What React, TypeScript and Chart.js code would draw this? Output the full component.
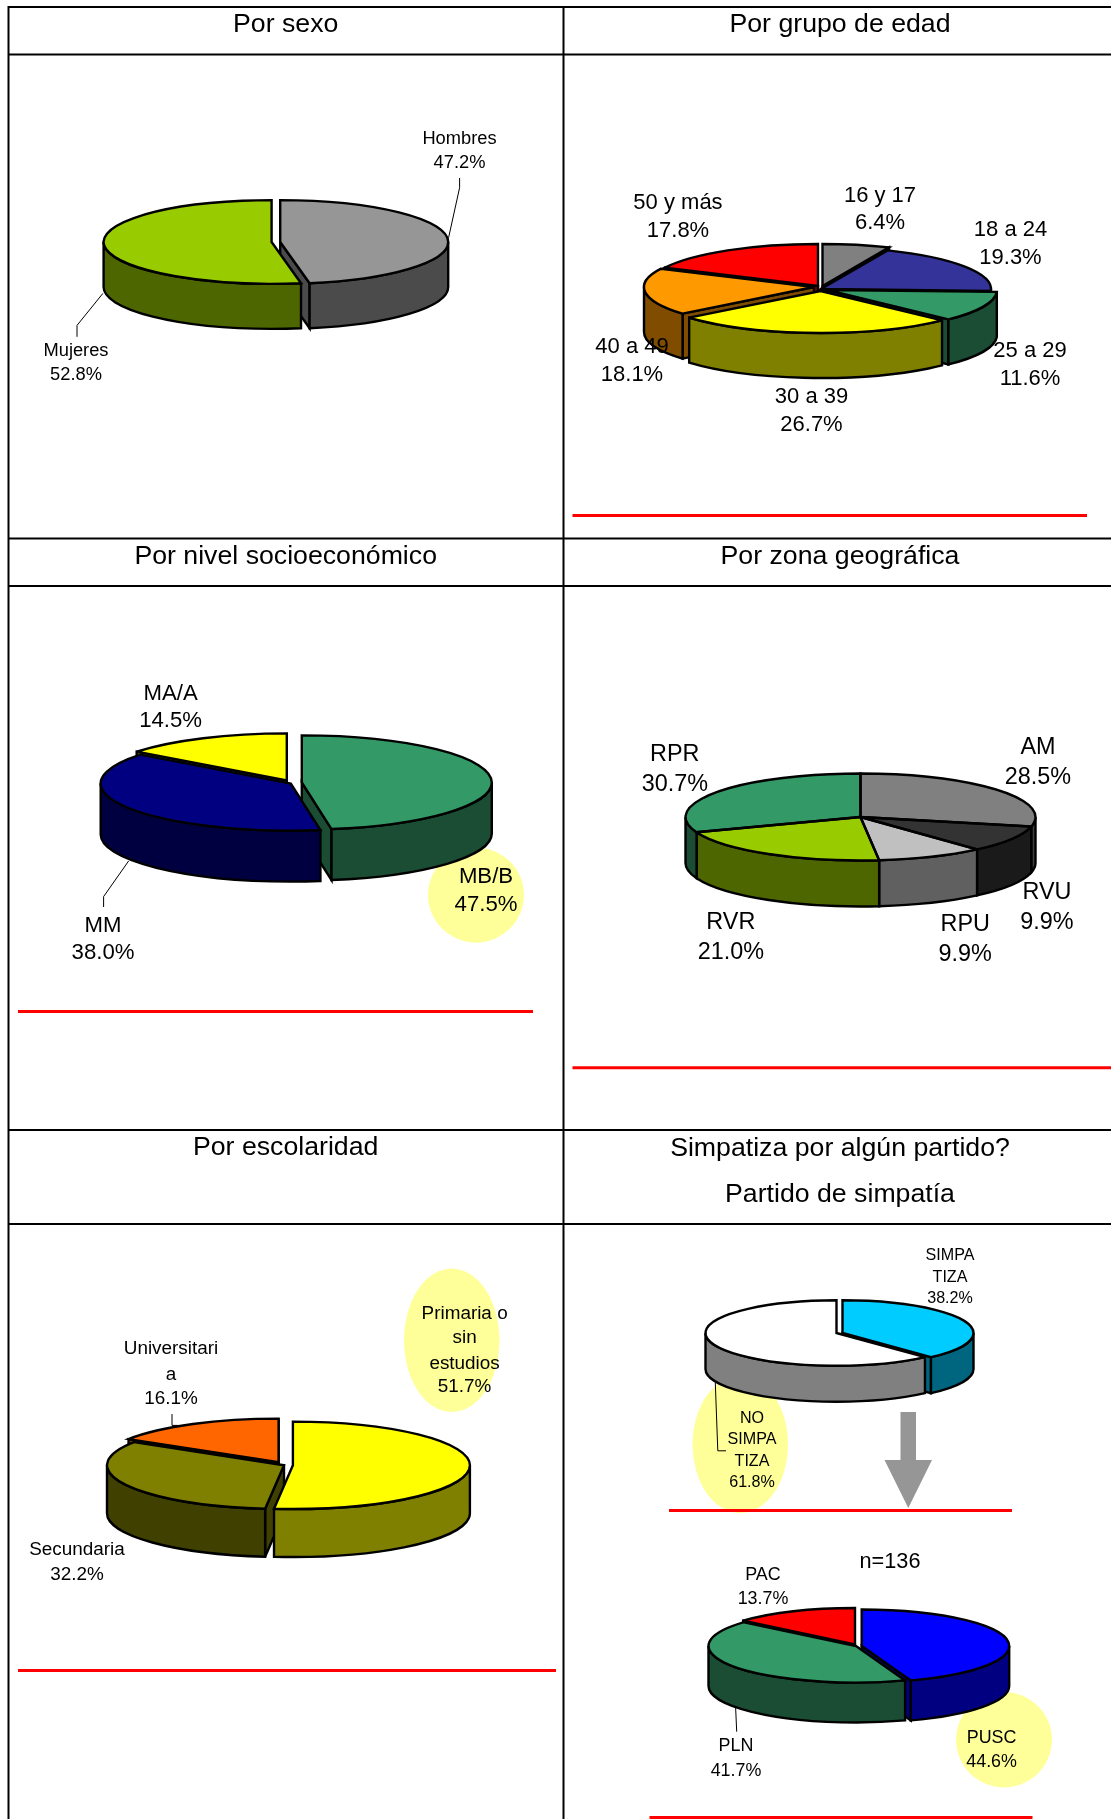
import React, { useEffect, useRef } from "react";
import { Chart, registerables } from "chart.js";

Chart.register(...registerables);

// ---------- data ----------
const sexoCategories = ["Hombres", "Mujeres"];
const sexoValues = [47.2, 52.8];

const edadCategories = ["16 y 17", "18 a 24", "25 a 29", "30 a 39", "40 a 49", "50 y más"];
const edadValues = [6.4, 19.3, 11.6, 26.7, 18.1, 17.8];

const nivelCategories = ["MB/B", "MM", "MA/A"];
const nivelValues = [47.5, 38.0, 14.5];

const zonaCategories = ["AM", "RVU", "RPU", "RVR", "RPR"];
const zonaValues = [28.5, 9.9, 9.9, 21.0, 30.7];

const escolaridadCategories = ["Primaria o\nsin\nestudios", "Secundaria", "Universitari\na"];
const escolaridadValues = [51.7, 32.2, 16.1];

const simpatiaCategories = ["SIMPA\nTIZA", "NO\nSIMPA\nTIZA"];
const simpatiaValues = [38.2, 61.8];

const partidoCategories = ["PUSC", "PLN", "PAC"];
const partidoValues = [44.6, 41.7, 13.7];

const FONT = '"Liberation Sans", Arial, sans-serif';

// ---------- styling / layout ----------
const pies = [
  {
    cats: sexoCategories, vals: sexoValues,
    tops: ["#969696", "#99cc00"], walls: ["#4b4b4b", "#4d6600"],
    explode: [[4.2, 0], [-4.4, 0]],
    cx: 276, cy: 242, r: 168, k: 0.249, depth: 45, font: 18.3,
    labels: [{ x: 459.5, ys: [144, 168] }, { x: 76, ys: [356.4, 380.5] }],
  },
  {
    cats: edadCategories, vals: edadValues,
    tops: ["#808080", "#333399", "#339966", "#ffff00", "#ff9900", "#ff0000"],
    walls: ["#404040", "#1a1a4d", "#1a4d33", "#808000", "#804d00", "#800000"],
    explode: [[2.5, -3], [1, 0], [7, 1], [0.6, 2], [-6, -2], [-2, -3]],
    cx: 820, cy: 289, r: 170, k: 0.247, depth: 45, font: 22,
    labels: [
      { x: 880, ys: [202.5, 230] }, { x: 1010.5, ys: [237, 265] }, { x: 1030, ys: [358, 386] },
      { x: 811.5, ys: [404, 432] }, { x: 632, ys: [354, 382] }, { x: 678, ys: [210, 238] },
    ],
  },
  {
    cats: nivelCategories, vals: nivelValues,
    tops: ["#339966", "#000080", "#ffff00"], walls: ["#1a4d33", "#000040", "#808000"],
    explode: [[8.8, 0], [-2.3, 1], [-6.2, -2]],
    cx: 293, cy: 782.5, r: 190, k: 0.248, depth: 51, font: 22.2,
    labels: [{ x: 486, ys: [884, 912] }, { x: 103, ys: [932.6, 959.8] }, { x: 170.6, ys: [700.3, 728] }],
  },
  {
    cats: zonaCategories, vals: zonaValues,
    tops: ["#808080", "#333333", "#c0c0c0", "#99cc00", "#339966"],
    walls: ["#404040", "#1a1a1a", "#606060", "#4d6600", "#1a4d33"],
    explode: [[0, 0], [0, 0], [0, 0], [0, 0], [0, 0]],
    cx: 860.5, cy: 817, r: 175, k: 0.2486, depth: 46, font: 23.4,
    labels: [
      { x: 1038, ys: [753.9, 784.5] }, { x: 1047, ys: [899.3, 929] }, { x: 965.2, ys: [931, 961] },
      { x: 730.8, ys: [929, 959.4] }, { x: 674.8, ys: [760.8, 791.4] },
    ],
  },
  {
    cats: escolaridadCategories, vals: escolaridadValues,
    tops: ["#ffff00", "#808000", "#ff6600"], walls: ["#808000", "#404000", "#803300"],
    explode: [[4.9, 0], [-4, 0], [-9.4, -3]],
    cx: 288, cy: 1465.3, r: 177, k: 0.247, depth: 48, font: 18.9,
    labels: [
      { x: 464.6, ys: [1319.3, 1344, 1369.7, 1392.8] },
      { x: 77, ys: [1555.6, 1580.5] },
      { x: 171, ys: [1355, 1380.8, 1404.4] },
    ],
  },
  {
    cats: simpatiaCategories, vals: simpatiaValues,
    tops: ["#00ccff", "#ffffff"], walls: ["#006680", "#808080"],
    explode: [[3, 0], [-3, 0]],
    cx: 839.5, cy: 1333, r: 131, k: 0.25, depth: 36, font: 16.1,
    labels: [{ x: 950, ys: [1259.5, 1281.4, 1302.8] }, { x: 752, ys: [1422.3, 1443.7, 1465.5, 1486.5] }],
  },
  {
    cats: partidoCategories, vals: partidoValues,
    tops: ["#0000ff", "#339966", "#ff0000"], walls: ["#000080", "#1a4d33", "#800000"],
    explode: [[2.7, 0], [-3, 0], [-4, -1.5]],
    cx: 859, cy: 1646, r: 147.5, k: 0.2475, depth: 40, font: 17.9,
    labels: [{ x: 991.6, ys: [1743.3, 1767.3] }, { x: 736, ys: [1750.9, 1776.3] }, { x: 763, ys: [1580.5, 1604.6] }],
  },
];

const titles = [
  { text: "Por sexo", x: 285.7, y: 32.7 },
  { text: "Por grupo de edad", x: 840, y: 32.7 },
  { text: "Por nivel socioeconómico", x: 285.7, y: 564.4 },
  { text: "Por zona geográfica", x: 840, y: 564.4 },
  { text: "Por escolaridad", x: 285.7, y: 1155.7 },
  { text: "Simpatiza por algún partido?", x: 840, y: 1156.5 },
  { text: "Partido de simpatía", x: 840, y: 1202.5 },
];

const gridH = [7, 54.5, 538.5, 586, 1130, 1224];
const gridV = [8.5, 563.5];

const redLines = [
  [572.5, 1087, 515.5],
  [18, 533, 1011.4],
  [572.5, 1111, 1067.7],
  [18, 556, 1670.6],
  [669, 1012, 1510.5],
  [649.5, 1032.5, 1817.5],
];

const highlights = [
  [428, 524, 847.6, 942.5],
  [404, 499.5, 1268.5, 1412],
  [692.5, 788, 1376, 1513],
  [956, 1052, 1692, 1787.4],
];

const leaders = [
  "459.6,178 459.6,187.7 448.6,237.6",
  "102.9,293.4 77,325.4 77,336.8",
  "128.6,861 103.6,896.6 103.6,907",
  "172,1414 172,1425.4 178,1425.4",
  "715.3,1383 717.8,1450.8 726,1450.8",
  "735.6,1707 736.7,1731.7",
];

const arrowPoints = "900.5,1412 916,1412 916,1460 932,1460 908.3,1508 884.5,1460 900.5,1460";

// ---------- 3D pie plugin: flattens the chart's arcs and extrudes them ----------
const pie3d = {
  id: "pie3d",
  beforeDatasetDraw(chart: any, args: any, opts: any) {
    const { ctx } = chart;
    const k = opts.k as number;
    const depth = opts.depth as number;
    const explode = opts.explode as number[][];
    const walls = opts.walls as string[];
    const flat = explode.every(([dx, dy]) => dx === 0 && dy === 0);
    const arcs = args.meta.data.map((a: any, i: number) => ({
      el: a,
      i,
      s: a.startAngle,
      e: a.endAngle,
      r: a.outerRadius,
      cx: a.x + opts.fx + explode[i][0],
      cy: a.y + opts.fy + explode[i][1],
    }));

    ctx.save();
    ctx.lineJoin = "miter";
    ctx.lineCap = "butt";
    ctx.miterLimit = 4;
    ctx.strokeStyle = "#000";
    ctx.lineWidth = 2.4;

    const pt = (p: any, ang: number) => [p.cx + p.r * Math.cos(ang), p.cy + p.r * k * Math.sin(ang)];

    // radial faces that look at the viewer
    const radial: any[] = [];
    if (!flat) {
      arcs.forEach((p: any) => {
        if (Math.cos(p.s) < 0) radial.push({ p, ang: p.s });
        if (Math.cos(p.e) > 0) radial.push({ p, ang: p.e });
      });
    }
    radial.sort((a, b) => pt(a.p, a.ang)[1] - pt(b.p, b.ang)[1]);
    radial.forEach(({ p, ang }) => {
      const [x, y] = pt(p, ang);
      ctx.beginPath();
      ctx.moveTo(p.cx, p.cy);
      ctx.lineTo(x, y);
      ctx.lineTo(x, y + depth);
      ctx.lineTo(p.cx, p.cy + depth);
      ctx.closePath();
      ctx.fillStyle = walls[p.i];
      ctx.fill();
      ctx.stroke();
    });

    // outer walls on the front half
    arcs.forEach((p: any) => {
      const a0 = Math.max(p.s, 0);
      const a1 = Math.min(p.e, Math.PI);
      if (a0 >= a1) return;
      ctx.beginPath();
      ctx.ellipse(p.cx, p.cy, p.r, p.r * k, 0, a0, a1);
      ctx.ellipse(p.cx, p.cy + depth, p.r, p.r * k, 0, a1, a0, true);
      ctx.closePath();
      ctx.fillStyle = walls[p.i];
      ctx.fill();
      ctx.stroke();
    });

    // top faces: the chart's own arc elements under a flattening transform
    arcs.forEach((p: any) => {
      ctx.save();
      ctx.translate(p.cx, p.cy);
      ctx.scale(1, k);
      ctx.translate(-p.el.x, -p.el.y);
      p.el.draw(ctx);
      ctx.restore();
    });
    arcs.forEach((p: any) => {
      ctx.beginPath();
      ctx.moveTo(p.cx, p.cy);
      ctx.ellipse(p.cx, p.cy, p.r, p.r * k, 0, p.s, p.e);
      ctx.closePath();
      ctx.stroke();
    });
    ctx.restore();
    return false;
  },
};

function Pie({ cfg }: { cfg: any }) {
  const ref = useRef<HTMLCanvasElement | null>(null);
  const W = Math.ceil(cfg.r + 40) * 2;
  const H = Math.ceil(cfg.r * cfg.k + cfg.depth + 30) * 2;
  const left = Math.floor(cfg.cx - W / 2);
  const top = Math.floor(cfg.cy - H / 2);
  useEffect(() => {
    const chart = new Chart(ref.current as HTMLCanvasElement, {
      type: "pie",
      data: {
        labels: cfg.cats,
        datasets: [{ data: cfg.vals, backgroundColor: cfg.tops, borderWidth: 0 }],
      },
      options: {
        animation: false,
        responsive: false,
        radius: cfg.r,
        events: [],
        plugins: {
          legend: { display: false },
          tooltip: { enabled: false },
          pie3d: {
            k: cfg.k,
            depth: cfg.depth,
            explode: cfg.explode,
            walls: cfg.walls,
            fx: cfg.cx - W / 2 - left,
            fy: cfg.cy - H / 2 - top,
          },
        },
      } as any,
      plugins: [pie3d],
    });
    return () => chart.destroy();
  }, []);
  return <canvas ref={ref} width={W} height={H} style={{ position: "absolute", left, top }} />;
}

function Txt({ text, x, y, size }: { text: string; x: number; y: number; size: number }) {
  return (
    <div
      style={{
        position: "absolute",
        left: x,
        top: y - 0.3465 * size,
        transform: "translateX(-50%)",
        fontFamily: FONT,
        fontSize: size,
        lineHeight: 0,
        whiteSpace: "nowrap",
        color: "#000",
      }}
    >
      {text}
    </div>
  );
}

const svgStyle: React.CSSProperties = { position: "absolute", left: 0, top: 0 };

export default function App() {
  return (
    <div style={{ position: "absolute", left: 0, top: 0, width: 1111, height: 1819, overflow: "hidden", background: "#fff" }}>
      <svg width={1111} height={1819} style={svgStyle}>
        {gridH.map((y) => (
          <line key={y} x1={8} x2={1111} y1={y} y2={y} stroke="#000" strokeWidth={2} />
        ))}
        {gridV.map((x) => (
          <line key={x} x1={x} x2={x} y1={6} y2={1819} stroke="#000" strokeWidth={2} />
        ))}
        {highlights.map(([x0, x1, y0, y1]) => (
          <ellipse key={x0} cx={(x0 + x1) / 2} cy={(y0 + y1) / 2} rx={(x1 - x0) / 2} ry={(y1 - y0) / 2} fill="#ffff99" />
        ))}
      </svg>
      {pies.map((p, i) => (
        <Pie key={i} cfg={p} />
      ))}
      <svg width={1111} height={1819} style={svgStyle}>
        <polygon points={arrowPoints} fill="#969696" />
        {leaders.map((pts) => (
          <polyline key={pts} points={pts} fill="none" stroke="#000" strokeWidth={1} />
        ))}
        {redLines.map(([x0, x1, y]) => (
          <line key={y} x1={x0} x2={x1} y1={y} y2={y} stroke="#ff0000" strokeWidth={3} />
        ))}
      </svg>
      {titles.map((t) => (
        <Txt key={t.text} text={t.text} x={t.x} y={t.y} size={26.7} />
      ))}
      <Txt text="n=136" x={890} y={1569} size={21.7} />
      {pies.map((p, i) =>
        p.labels.map((l, j) => {
          const lines = [...p.cats[j].split("\n"), p.vals[j].toFixed(1) + "%"];
          return lines.map((s, n) => <Txt key={`${i}-${j}-${n}`} text={s} x={l.x} y={l.ys[n]} size={p.font} />);
        })
      )}
    </div>
  );
}
